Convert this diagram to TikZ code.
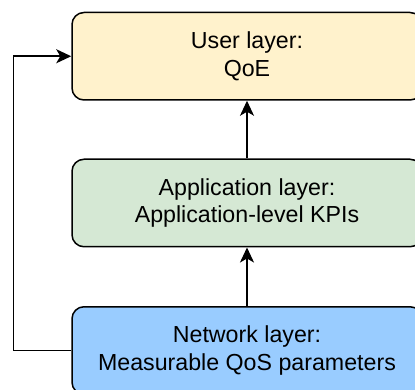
\documentclass[tikz,border=0pt]{standalone}
\usepackage{fontspec}
\setmainfont{Liberation Sans}
\usetikzlibrary{arrows.meta}

\definecolor{userfill}{HTML}{FFF2CC}
\definecolor{appfill}{HTML}{D5E8D4}
\definecolor{netfill}{HTML}{99CCFF}

\tikzstyle{layer}=[rectangle,rounded corners=12pt,draw=black,line width=1.5pt,align=center,font=\fontsize{23.2}{27.8}\selectfont,minimum width=350pt,minimum height=87.5pt,inner sep=0pt]

\begin{document}
\begin{tikzpicture}[>={Stealth[length=15pt,width=14pt,inset=4pt]},x=1pt,y=-1pt,line width=1.5pt]
	\clip (0,0) rectangle (415,390);
	\node[layer,fill=userfill] (user) at (247,56.25) {User layer:\\QoE};
	\node[layer,fill=appfill] (app) at (247,203) {Application layer:\\Application-level KPIs};
	\node[layer,fill=netfill] (net) at (247,350.5) {Network layer:\\Measurable QoS parameters};

	% Arrows
	\draw[->] (app) -- (user);
	\draw[->] (net) -- (app);
	\draw[->] (net.west) -- ++(-58,0) |- (user.west);
\end{tikzpicture}
\end{document}
